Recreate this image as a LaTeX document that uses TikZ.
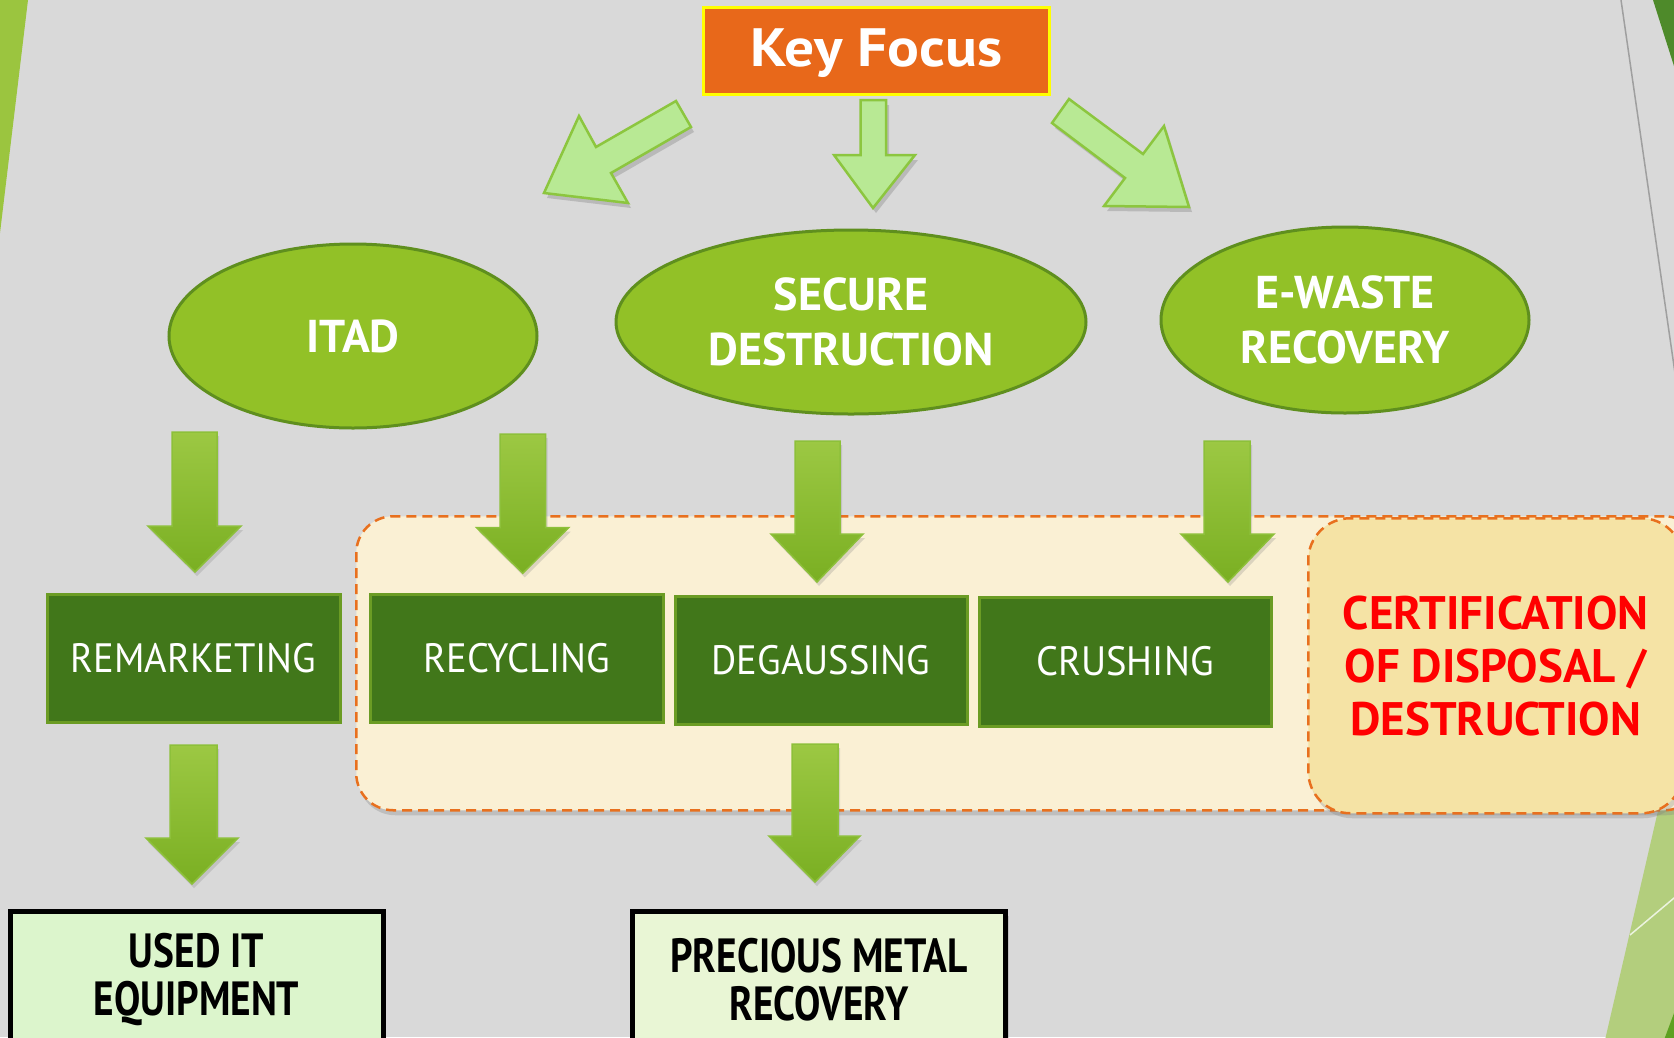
\documentclass[tikz,border=0pt]{standalone}
\usepackage{fontspec}
\setmainfont{PT Sans}
\newfontfamily\narrowfont{PT Sans}[FakeStretch=0.82]
\newfontfamily\rectfont{PT Sans}[FakeStretch=0.94]
\newfontfamily\widefont{PT Sans}[FakeStretch=1.1]
\usetikzlibrary{shadows,shapes.geometric}
\definecolor{bgcol}{HTML}{D9D9D9}
\definecolor{stripegreen}{HTML}{9BC53F}
\definecolor{stripedark}{HTML}{4E8A2A}
\definecolor{stripelight}{HTML}{B3CE7D}
\definecolor{stripevivid}{HTML}{5DA121}
\definecolor{keyorange}{HTML}{E8681A}
\definecolor{keyyellow}{HTML}{FFFF00}
\definecolor{lafill}{HTML}{B8E994}
\definecolor{ladraw}{HTML}{8CC63F}
\definecolor{ovalfill}{HTML}{92C127}
\definecolor{ovaldraw}{HTML}{5F8F1E}
\definecolor{rectfill}{HTML}{41771A}
\definecolor{rectdraw}{HTML}{6B9C24}
\definecolor{dtop}{HTML}{9CC843}
\definecolor{dbot}{HTML}{7AAF22}
\definecolor{dborder}{HTML}{8DC03A}
\definecolor{grpfill}{HTML}{FAF0D4}
\definecolor{grpdraw}{HTML}{E8701E}
\definecolor{certfill}{HTML}{F5E3A5}
\definecolor{certred}{HTML}{FF0000}
\definecolor{usedfill}{HTML}{DCF5CC}
\definecolor{precfill}{HTML}{E9F6D5}
\tikzset{
  keybox/.style={rectangle, fill=keyorange, draw=keyyellow, line width=3pt,
    minimum width=346pt, minimum height=87pt, text=white,
    text height=31pt, text depth=0pt,
    font=\fontsize{54}{60}\widefont\bfseries},
  oval/.style={ellipse, fill=ovalfill, draw=ovaldraw, line width=3pt, text=white,
    align=center, inner sep=0pt, font=\fontsize{46}{54.5}\selectfont\bfseries},
  stepbox/.style={rectangle, fill=rectfill, draw=rectdraw, line width=3pt,
    minimum width=292pt, minimum height=128pt, text=white,
    font=\fontsize{41}{48}\rectfont},
  lightarrow/.style={fill=lafill, draw=ladraw, line width=2.5pt,
    drop shadow={shadow xshift=3pt, shadow yshift=-5pt, opacity=0.35}},
  darrow/.style={top color=dtop, bottom color=dbot, draw=dborder, line width=1.5pt,
    drop shadow={shadow xshift=2pt, shadow yshift=-4pt, opacity=0.25}},
  grpbox/.style={rectangle, rounded corners=37pt, fill=grpfill, draw=grpdraw,
    line width=2.5pt, dash pattern=on 10pt off 6pt,
    drop shadow={shadow xshift=2pt, shadow yshift=-5pt, opacity=0.3}},
  certbox/.style={rectangle, rounded corners=42pt, fill=certfill, draw=grpdraw,
    line width=2.5pt, dash pattern=on 10pt off 6pt, text=certred, align=center,
    font=\fontsize{47}{53}\selectfont\bfseries,
    drop shadow={shadow xshift=2pt, shadow yshift=-5pt, opacity=0.3}},
  outbox/.style={rectangle, draw=black, line width=5pt,
    drop shadow={shadow xshift=3pt, shadow yshift=-4pt, opacity=0.3}},
  outtext/.style={align=center, text=black, inner sep=0pt,
    font=\fontsize{48}{48}\narrowfont\bfseries},
}
\newcommand\dnarrow[8]{%
  \path[darrow] (#1,#3) -- (#2,#3) -- (#2,#4) -- (#6,#4) -- (#7,#8) -- (#5,#4) -- (#1,#4) -- cycle;}
\begin{document}
\begin{tikzpicture}[x=1pt,y=-1pt]
\useasboundingbox (0,0) rectangle (1674,1037);
\clip (0,0) rectangle (1674,1037);
% background
\fill[bgcol] (0,0) rectangle (1674,1037);
\fill[stripegreen] (0,0) -- (28,0) -- (0,233) -- cycle;
\draw[gray!75, line width=1.5pt] (1621,0) -- (1676,380);
\fill[stripedark] (1653,0) -- (1680,0) -- (1680,85) -- cycle;
\fill[stripelight] (1679,720) -- (1605,1040) -- (1680,1040) -- cycle;
\draw[white!75!stripelight, line width=1.5pt] (1630,935) -- (1680,893);
\fill[stripevivid] (1664,1040) -- (1680,1040) -- (1680,997) -- cycle;
% group container and certification
\node[grpbox, minimum width=1345pt, minimum height=294pt, anchor=north west] (grp) at (355,515) {};
\node[certbox, minimum width=375pt, minimum height=295pt, anchor=north west] (cert) at (1307,517)
  {CERTIFICATION\\OF DISPOSAL /\\DESTRUCTION};
% key focus
\node[keybox] (key) at (876.5,51) {Key Focus};
% top light arrows
\path[lightarrow] (676,101) -- (691,127) -- (611,173) -- (628,203) -- (544,193) -- (579,116) -- (596,147) -- cycle;
\path[lightarrow] (860.5,100) -- (886,100) -- (886,155) -- (915,155) -- (873,208) -- (834,155) -- (860.5,155) -- cycle;
\path[lightarrow] (1069,99) -- (1143,154) -- (1164,126) -- (1189,207) -- (1104,206) -- (1125,178) -- (1052,123) -- cycle;
% ellipses
\node[oval, minimum width=368pt, minimum height=184pt] (itad) at (353,336) {ITAD};
\node[oval, minimum width=470pt, minimum height=184pt] (secure) at (851,322) {SECURE\\DESTRUCTION};
\node[oval, minimum width=368pt, minimum height=186pt] (ewaste) at (1345,320) {E-WASTE\\RECOVERY};
% down arrows
\dnarrow{172}{217}{432}{526}{148}{241}{195}{572}
\dnarrow{500}{545.7}{434}{527.7}{476.7}{568.7}{522.7}{573.3}
\dnarrow{795}{840}{441}{534}{771}{863}{817}{582}
\dnarrow{1204}{1250}{441}{534}{1181}{1274}{1228}{582}
\dnarrow{170}{217}{745}{838}{146}{238}{192}{884}
\dnarrow{792}{838}{744}{836}{769}{860}{815}{882}
% step boxes
\node[stepbox, minimum width=293pt] (remark) at (193.5,658) {REMARKETING};
\node[stepbox, minimum width=293.5pt] (recyc) at (517,658.5) {RECYCLING};
\node[stepbox] (degauss) at (821,660) {DEGAUSSING};
\node[stepbox, minimum height=129pt] (crush) at (1125,661.5) {CRUSHING};
% output boxes
\node[outbox, fill=usedfill, minimum width=373pt, minimum height=160pt, anchor=north] (used) at (196.5,909) {};
\node[outtext] (usedlbl) at (196.5,979.5) {USED IT\\EQUIPMENT};
\node[outbox, fill=precfill, minimum width=373pt, minimum height=160pt, anchor=north] (prec) at (819,909) {};
\node[outtext] (preclbl) at (819,979.5) {PRECIOUS METAL\\RECOVERY};
\end{tikzpicture}
\end{document}
